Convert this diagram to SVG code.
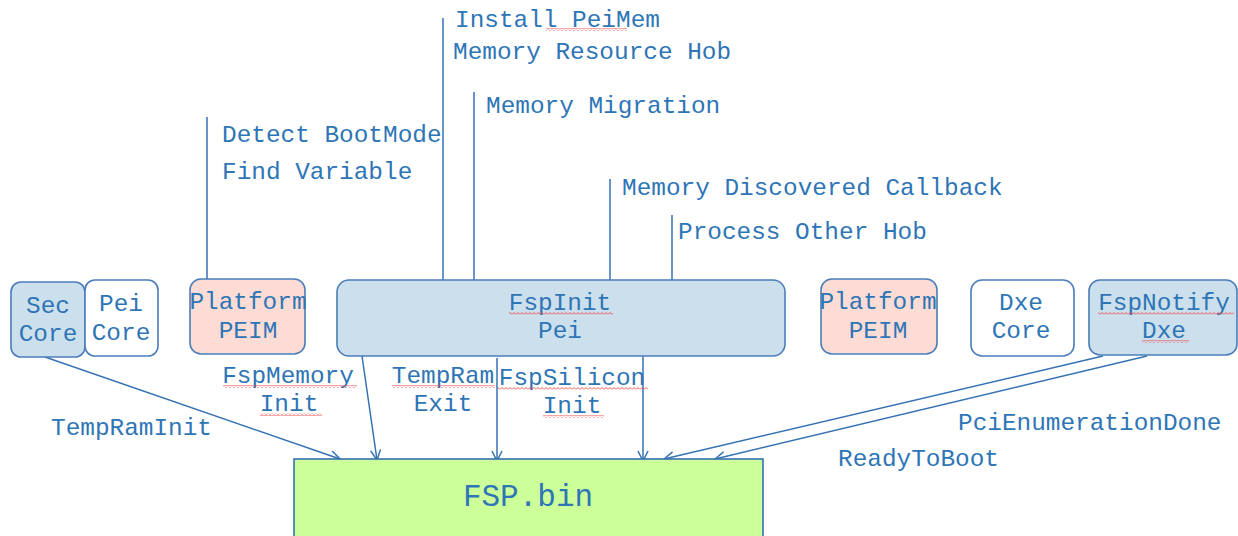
<svg xmlns="http://www.w3.org/2000/svg" width="1238" height="536" viewBox="0 0 1238 536">
<defs>
<style>
.t{font-family:"Liberation Mono","Courier New",monospace;font-size:24.4px;fill:#2E75B6;}
.c{text-anchor:middle;}
.box{stroke:#4A7DBA;stroke-width:1.6;}
.blue{fill:#CCDFEC;}
.white{fill:#FFFFFF;}
.pink{fill:#FCDCD4;}
.ln{stroke:#3572B4;stroke-width:1.5;fill:none;}
.sq{fill:url(#wave);}
</style>
<pattern id="wave" width="4" height="3" patternUnits="userSpaceOnUse">
<path d="M0,2.5 L2,0.5 L4,2.5" fill="none" stroke="#F03C3C" stroke-width="0.9"/>
</pattern>
<marker id="ah" viewBox="0 0 12 12" refX="11" refY="6" markerWidth="12" markerHeight="12" markerUnits="userSpaceOnUse" orient="auto">
<path d="M1,1 L11,6 L1,11" fill="none" stroke="#3572B4" stroke-width="1.5"/>
</marker>
</defs>
<rect width="1238" height="536" fill="#FFFFFF"/>

<g id="connectors">
<line class="ln" x1="207" y1="117" x2="207" y2="279"/>
<line class="ln" x1="443" y1="18" x2="443" y2="280"/>
<line class="ln" x1="474" y1="92" x2="474" y2="280"/>
<line class="ln" x1="610" y1="179" x2="610" y2="280"/>
<line class="ln" x1="672" y1="215" x2="672" y2="280"/>
<line class="ln" x1="45" y1="357" x2="340" y2="459" marker-end="url(#ah)"/>
<line class="ln" x1="362" y1="356" x2="377" y2="460" marker-end="url(#ah)"/>
<line class="ln" x1="497" y1="358" x2="497" y2="461" marker-end="url(#ah)"/>
<line class="ln" x1="643" y1="356" x2="643" y2="461" marker-end="url(#ah)"/>
<line class="ln" x1="1103" y1="356" x2="664" y2="459" marker-end="url(#ah)"/>
<line class="ln" x1="1147" y1="356" x2="715" y2="459" marker-end="url(#ah)"/>
</g>

<g id="labels">
<text class="t" x="455" y="27">Install PeiMem</text>
<rect class="sq" x="546" y="28" width="81" height="3"/>
<text class="t" x="453" y="59">Memory Resource Hob</text>
<text class="t" x="486" y="113">Memory Migration</text>
<text class="t" x="222" y="142">Detect BootMode</text>
<text class="t" x="222" y="179">Find Variable</text>
<text class="t" x="622" y="195">Memory Discovered Callback</text>
<text class="t" x="678" y="239">Process Other Hob</text>
<text class="t" x="51" y="435">TempRamInit</text>
<text class="t c" x="288" y="383">FspMemory</text>
<rect class="sq" x="223" y="385" width="134" height="3"/>
<text class="t c" x="289" y="411">Init</text>
<rect class="sq" x="260" y="413" width="62" height="3"/>
<text class="t c" x="443" y="383">TempRam</text>
<rect class="sq" x="392" y="385" width="103" height="3"/>
<text class="t c" x="443" y="411">Exit</text>
<text class="t c" x="572" y="385">FspSilicon</text>
<rect class="sq" x="498" y="387" width="150" height="3"/>
<text class="t c" x="572" y="413">Init</text>
<rect class="sq" x="543" y="415" width="61" height="3"/>
<text class="t" x="958" y="430">PciEnumerationDone</text>
<text class="t" x="838" y="466">ReadyToBoot</text>
</g>

<g id="sec-core">
<rect class="box blue" x="11" y="282" width="74" height="75" rx="10"/>
<text class="t c" x="48" y="313">Sec</text>
<text class="t c" x="48" y="341">Core</text>
</g>
<g id="pei-core">
<rect class="box white" x="85" y="280" width="73" height="76" rx="10"/>
<text class="t c" x="121" y="311">Pei</text>
<text class="t c" x="121" y="340">Core</text>
</g>
<g id="platform-peim-1">
<rect class="box pink" x="190" y="279" width="115" height="75" rx="11"/>
<text class="t c" x="248" y="309">Platform</text>
<text class="t c" x="248" y="338">PEIM</text>
</g>
<g id="fspinit-pei">
<rect class="box blue" x="337" y="280" width="448" height="76" rx="12"/>
<text class="t c" x="560" y="310">FspInit</text>
<rect class="sq" x="509" y="312" width="104" height="3"/>
<text class="t c" x="560" y="338">Pei</text>
</g>
<g id="platform-peim-2">
<rect class="box pink" x="821" y="279" width="116" height="75" rx="11"/>
<text class="t c" x="878" y="309">Platform</text>
<text class="t c" x="878" y="338">PEIM</text>
</g>
<g id="dxe-core">
<rect class="box white" x="971" y="280" width="103" height="76" rx="11"/>
<text class="t c" x="1021" y="310">Dxe</text>
<text class="t c" x="1021" y="338">Core</text>
</g>
<g id="fspnotify-dxe">
<rect class="box blue" x="1089" y="280" width="148" height="75" rx="11"/>
<text class="t c" x="1164" y="310">FspNotify</text>
<rect class="sq" x="1098" y="312" width="136" height="3"/>
<text class="t c" x="1164" y="338">Dxe</text>
<rect class="sq" x="1142" y="340" width="47" height="3"/>
</g>
<g id="fsp-bin">
<rect x="294" y="459" width="469" height="90" fill="#CCFF99" stroke="#3572B4" stroke-width="1.6"/>
<text class="t c" x="528" y="506" style="font-size:31px">FSP.bin</text>
</g>
</svg>
